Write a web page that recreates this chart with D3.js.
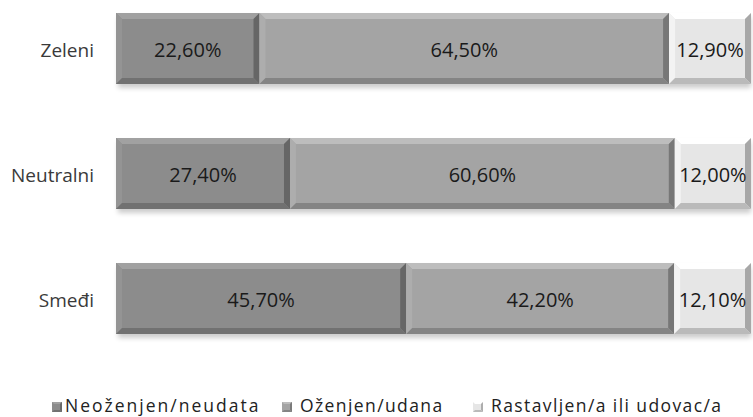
<!DOCTYPE html>
<html>
<head>
<meta charset="utf-8">
<script src="https://cdn.jsdelivr.net/npm/d3@7"></script>
<style>
  body { margin: 0; background: #fff; }
  text { font-family: "Open Sans", "Noto Sans", sans-serif; }
</style>
</head>
<body>
<div id="chart"></div>
<script>
const categories = ['Zeleni', 'Neutralni', 'Smeđi'];
const seriesNames = ['Neoženjen/neudata', 'Oženjen/udana', 'Rastavljen/a ili udovac/a'];
const single = [22.6, 27.4, 45.7];
const married = [64.5, 60.6, 42.2];
const divorced = [12.9, 12.0, 12.1];
const colors = ['#8c8c8c', '#a4a4a4', '#e6e6e6'];

let w = 753;
let h = 417;
let bevel = 6;

const fmt = v => v.toFixed(2).replace('.', ',') + '%';

let svg = d3.select('#chart').
append('svg').
attr('width', w).
attr('height', h);

let defs = svg.append('defs');
defs.append('filter').
attr('id', 'shadow').
attr('x', '-5%').attr('y', '-20%').attr('width', '110%').attr('height', '160%').
append('feGaussianBlur').
attr('stdDeviation', 2.5);

let xScale = d3.scaleLinear().
domain([0, 100]).
range([116, 751]);

let yScale = d3.scaleBand().
domain(categories).
range([-14, 361]).
paddingInner(0.432).
paddingOuter(0.216);

let rows = categories.map((c, i) => {
  let vals = [single[i], married[i], divorced[i]];
  let start = 0;
  return vals.map((v, k) => {
    let seg = { cat: c, k: k, v: v, x0: start, x1: start + v };
    start += v;
    return seg;
  });
});

// shadows under bars
svg.selectAll('.shadow').
data(categories).
enter().
append('rect').
attr('class', 'shadow').
attr('x', xScale(0) + 2).
attr('y', d => yScale(d) + 4).
attr('width', xScale(100) - xScale(0) - 2).
attr('height', yScale.bandwidth()).
attr('fill', '#000').
attr('opacity', 0.2).
attr('filter', 'url(#shadow)');

let segs = svg.selectAll('.seg').
data(rows.flat()).
enter().
append('g').
attr('class', 'seg');

segs.each(function (d) {
  let g = d3.select(this);
  let x0 = xScale(d.x0);
  let x1 = xScale(d.x1);
  let y0 = yScale(d.cat);
  let y1 = y0 + yScale.bandwidth();
  let base = d3.color(colors[d.k]);
  let b = bevel;
  g.append('rect').
  attr('x', x0).attr('y', y0).
  attr('width', x1 - x0).attr('height', y1 - y0).
  attr('fill', base);
  let poly = (pts, c) => g.append('polygon').
  attr('points', pts.map(p => p.join(',')).join(' ')).
  attr('fill', c);
  poly([[x0, y0], [x1, y0], [x1 - b, y0 + b], [x0 + b, y0 + b]], base.brighter(0.4));
  poly([[x0, y0], [x0 + b, y0 + b], [x0 + b, y1 - b], [x0, y1]], base.brighter(0.15));
  poly([[x1, y0], [x1, y1], [x1 - b, y1 - b], [x1 - b, y0 + b]], base.darker(0.9));
  poly([[x0, y1], [x0 + b, y1 - b], [x1 - b, y1 - b], [x1, y1]], base.darker(0.6));
  g.append('text').
  attr('x', (x0 + x1) / 2).
  attr('y', (y0 + y1) / 2 + 8.5).
  attr('text-anchor', 'middle').
  attr('font-size', 20).
  attr('fill', '#1a1a1a').
  text(fmt(d.v));
});

svg.selectAll('.cat').
data(categories).
enter().
append('text').
attr('class', 'cat').
attr('x', 94).
attr('y', d => yScale(d) + yScale.bandwidth() / 2 + 8.5).
attr('text-anchor', 'end').
attr('font-size', 19).
attr('fill', '#3a3a3a').
text(d => d);

// legend
let legendX = [52, 282, 473];
let legend = svg.selectAll('.legend').
data(seriesNames).
enter().
append('g').
attr('class', 'legend').
attr('transform', (d, i) => 'translate(' + legendX[i] + ',412)');

legend.each(function (d, i) {
  let g = d3.select(this);
  let base = d3.color(colors[i]);
  g.append('rect').attr('x', 0).attr('y', -10).attr('width', 10).attr('height', 10).attr('fill', base);
  g.append('polygon').attr('points', '0,-10 10,-10 8,-8 2,-8').attr('fill', base.brighter(0.4));
  g.append('polygon').attr('points', '10,-10 10,0 8,-2 8,-8').attr('fill', base.darker(0.8));
  g.append('polygon').attr('points', '0,0 2,-2 8,-2 10,0').attr('fill', base.darker(0.6));
  g.append('text').
  attr('x', i === 0 ? 13 : 18).
  attr('y', 0).
  attr('font-size', 17.5).
  attr('letter-spacing', i === 0 ? 2 : 1.4).
  attr('fill', '#222').
  text(d);
});
</script>
</body>
</html>
